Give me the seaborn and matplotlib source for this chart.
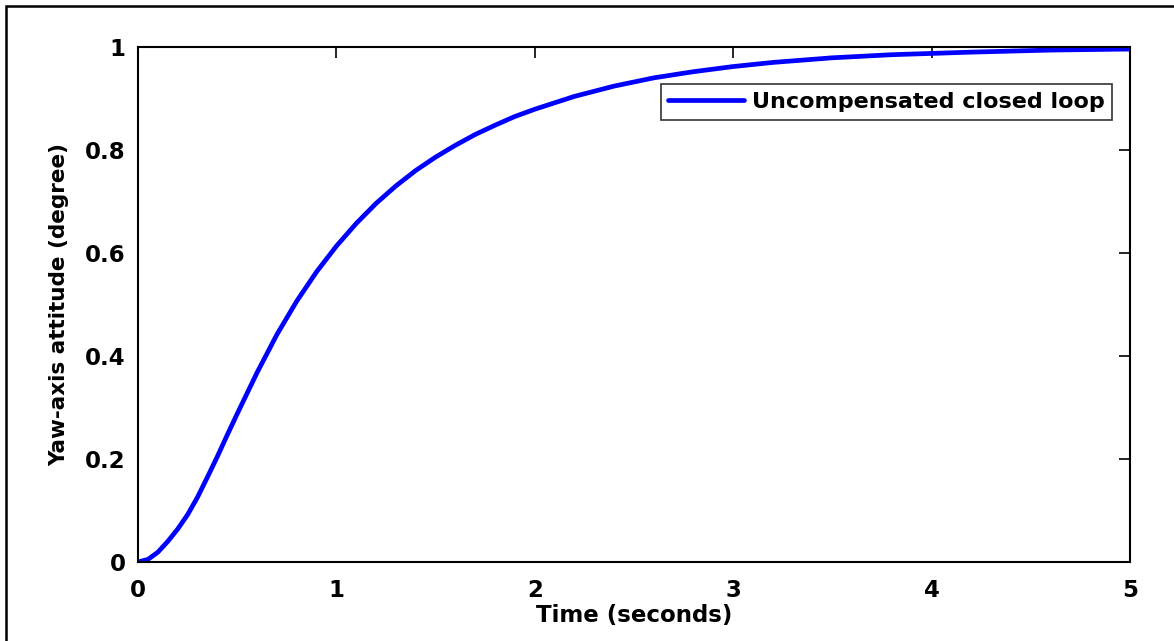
import pandas as pd
import matplotlib.pyplot as plt
import seaborn as sns
from matplotlib.patches import Rectangle

# step response
time_s = [0.0, 0.05, 0.1, 0.15, 0.2, 0.25, 0.3, 0.35, 0.4, 0.45, 0.5, 0.6, 0.7, 0.8,
          0.9, 1.0, 1.1, 1.2, 1.3, 1.4, 1.5, 1.6, 1.7, 1.8, 1.9, 2.0, 2.2, 2.4, 2.6,
          2.8, 3.0, 3.2, 3.5, 3.8, 4.2, 4.6, 5.0]
yaw_deg = [0.0, 0.005, 0.019, 0.040, 0.064, 0.092, 0.126, 0.165, 0.205, 0.247, 0.288,
           0.368, 0.442, 0.507, 0.564, 0.614, 0.658, 0.697, 0.731, 0.761, 0.787, 0.810,
           0.831, 0.849, 0.866, 0.880, 0.905, 0.925, 0.941, 0.953, 0.963, 0.971, 0.980,
           0.986, 0.991, 0.995, 0.997]
series_name = "Uncompensated closed loop"
x_ticks = [0, 1, 2, 3, 4, 5]
y_ticks = [0, 0.2, 0.4, 0.6, 0.8, 1.0]
y_tick_labels = ["0", "0.2", "0.4", "0.6", "0.8", "1"]

df = pd.DataFrame({"t": time_s, "y": yaw_deg})

sns.set_style("white")
plt.rcParams["font.family"] = ["DejaVu Sans"]
plt.rcParams["font.weight"] = "bold"
plt.rcParams["text.color"] = "black"
plt.rcParams["axes.labelcolor"] = "black"
plt.rcParams["xtick.color"] = "black"
plt.rcParams["ytick.color"] = "black"

fig = plt.figure(figsize=(11.74, 6.41), dpi=100)
ax = fig.add_axes([138 / 1174, 1 - 562 / 641, 992 / 1174, 514.5 / 641])

sns.lineplot(data=df, x="t", y="y", ax=ax, color="#0000ff", linewidth=3.4,
             label=series_name)

ax.set_xlim(0, 5)
ax.set_ylim(0, 1)
ax.set_xticks(x_ticks)
ax.set_xticklabels([str(v) for v in x_ticks])
ax.set_yticks(y_ticks)
ax.set_yticklabels(y_tick_labels)
ax.tick_params(direction="in", length=8, width=1.2, top=True, right=True,
               labelsize=16.5)
ax.tick_params(axis="x", pad=12)
ax.tick_params(axis="y", pad=9)
for lab in ax.get_xticklabels() + ax.get_yticklabels():
    lab.set_fontweight("bold")
for sp in ax.spines.values():
    sp.set_visible(True)
    sp.set_color("black")
    sp.set_linewidth(1.5)

ax.set_xlabel("Time (seconds)", fontsize=16.5, fontweight="bold", labelpad=2)
ax.set_ylabel("Yaw-axis attitude (degree)", fontsize=15.5, fontweight="bold", labelpad=11)

leg = ax.legend(loc="upper right", bbox_to_anchor=(0.982, 0.929), borderaxespad=0,
                fancybox=False, framealpha=1, handlelength=3.4, handletextpad=0.35,
                borderpad=0.35, prop={"weight": "bold", "size": 16})
leg.get_frame().set_edgecolor("#333333")
leg.get_frame().set_linewidth(1.2)

# outer frame around the figure (cropped on the right and bottom)
fig.add_artist(Rectangle((6 / 1174, -0.1), 1.2, 1.1 - 6 / 641, transform=fig.transFigure,
                         fill=False, edgecolor="black", linewidth=1.8))

fig.savefig("out.png", dpi=100)
